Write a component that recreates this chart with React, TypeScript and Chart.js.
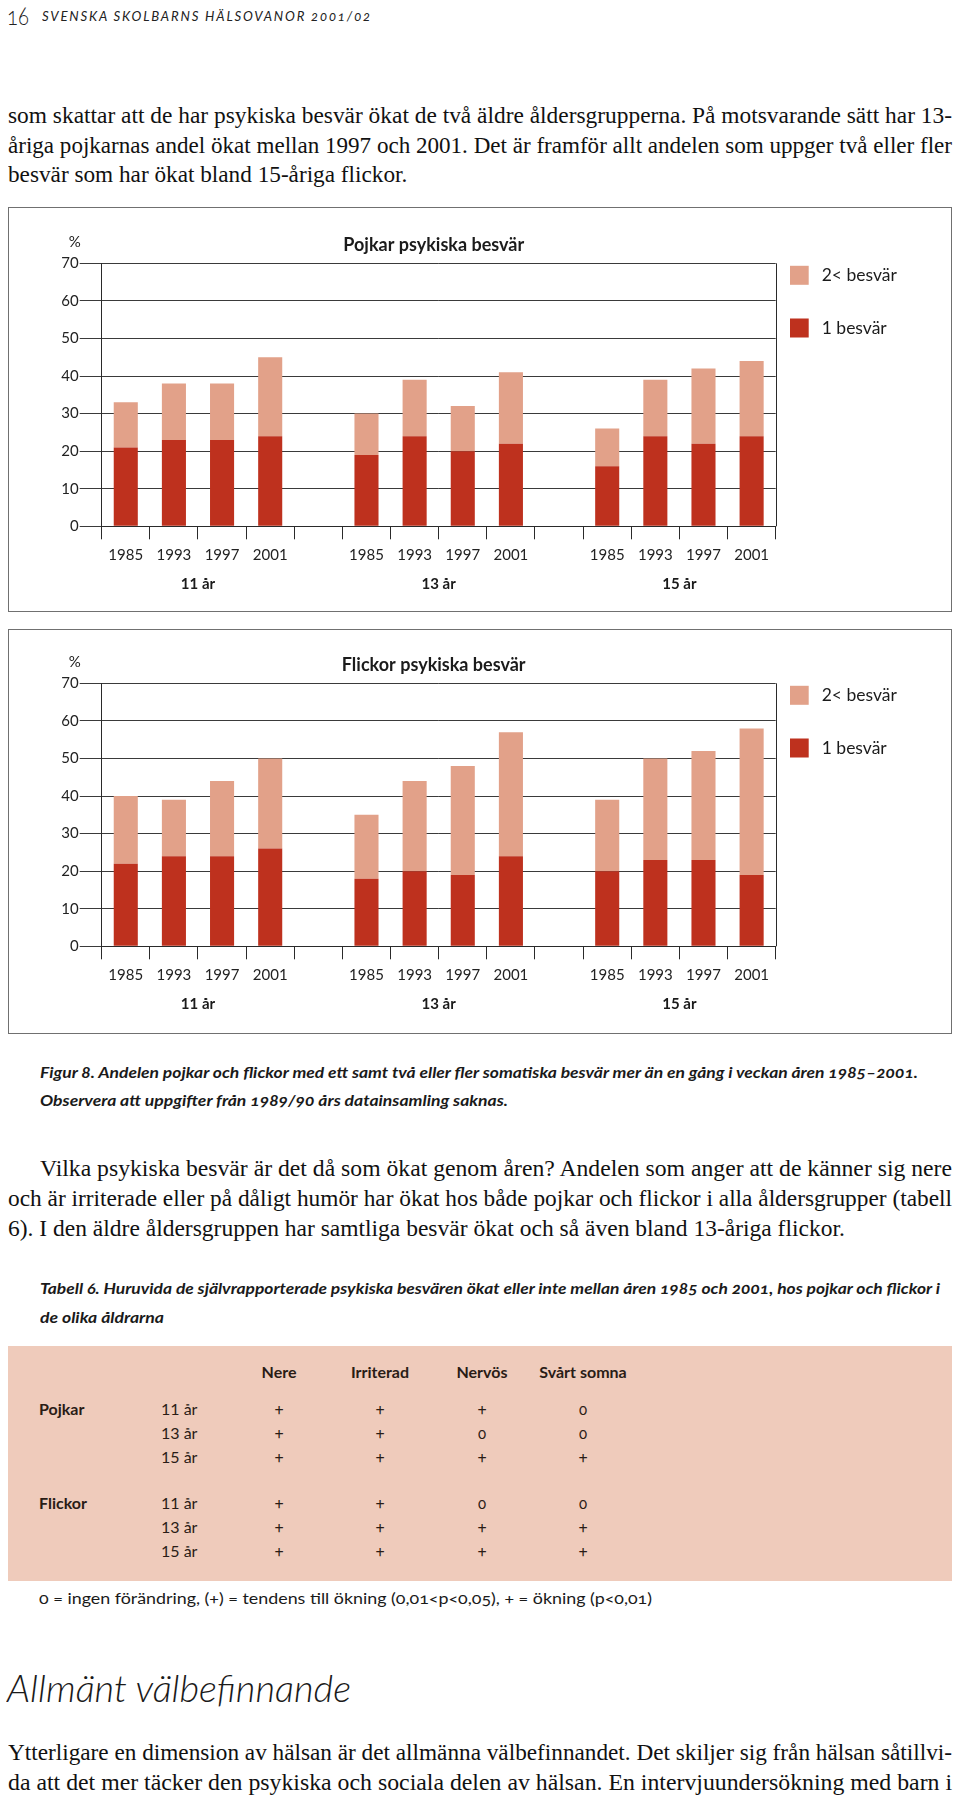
import React, { useEffect, useLayoutEffect, useRef } from "react";
import { Chart, registerables } from "chart.js";
Chart.register(...registerables);

// ---------- data ----------
const yearLabels = ["1985", "1993", "1997", "2001", "", "1985", "1993", "1997", "2001", "", "1985", "1993", "1997", "2001"];
const ageGroups = ["11 år", "13 år", "15 år"];
const groupSlots = [[0, 3], [5, 8], [10, 13]];
const yTicks = [0, 10, 20, 30, 40, 50, 60, 70];
const seriesOneName = "1 besvär";
const seriesTwoName = "2< besvär";
const boysOne = [21, 23, 23, 24, null, 19, 24, 20, 22, null, 16, 24, 22, 24];
const boysTwoPlus = [12, 15, 15, 21, null, 11, 15, 12, 19, null, 10, 15, 20, 20];
const girlsOne = [22, 24, 24, 26, null, 18, 20, 19, 24, null, 20, 23, 23, 19];
const girlsTwoPlus = [18, 15, 20, 24, null, 17, 24, 29, 33, null, 19, 27, 29, 39];

const tableCols = ["Nere", "Irriterad", "Nervös", "Svårt somna"];
const tableGroups = ["Pojkar", "Flickor"];
const tableAges = ["11 år", "13 år", "15 år"];
const tableValues = [
  [["+", "+", "+", "0"], ["+", "+", "0", "0"], ["+", "+", "+", "+"]],
  [["+", "+", "0", "0"], ["+", "+", "+", "+"], ["+", "+", "+", "+"]],
];

const DARK = "#BE311E";
const LIGHT = "#E2A189";
const TABLE_BG = "#EFCBBB";
const SANS = "Lato, 'Open Sans', sans-serif";
const SERIF = "'Liberation Serif', 'Times New Roman', serif";

// ---------- text lines fitted to widths ----------
type LineSpec = { text: string; x0: number; x1?: number; y: number };

function Para({ lines, font, size, weight = 400, italic = false, color = "#111", lh = 30, spacing = 0, extra = {} }: any) {
  const refs = useRef<(HTMLSpanElement | null)[]>([]);
  useLayoutEffect(() => {
    const fit = () => {
      const ks: number[] = [];
      (lines as LineSpec[]).forEach((l, i) => {
        const el = refs.current[i];
        if (!el) return;
        el.style.transform = "none";
        if (l.x1 !== undefined) {
          const w = el.getBoundingClientRect().width;
          const k = (l.x1 - l.x0) / w;
          ks.push(k);
          el.style.transform = `scaleX(${k})`;
        }
      });
      const avg = ks.length ? ks.reduce((a, b) => a + b, 0) / ks.length : 1;
      (lines as LineSpec[]).forEach((l, i) => {
        const el = refs.current[i];
        if (el && l.x1 === undefined) el.style.transform = `scaleX(${avg})`;
      });
    };
    fit();
    if ((document as any).fonts && (document as any).fonts.ready) (document as any).fonts.ready.then(fit);
  });
  return (
    <>
      {(lines as LineSpec[]).map((l, i) => (
        <span
          key={i}
          ref={(el) => { refs.current[i] = el; }}
          style={{
            position: "absolute",
            left: l.x0,
            top: l.y - lh / 2,
            height: lh,
            lineHeight: lh + "px",
            whiteSpace: "nowrap",
            display: "inline-block",
            fontFamily: font,
            fontSize: size,
            fontWeight: weight,
            fontStyle: italic ? "italic" : "normal",
            color,
            letterSpacing: spacing,
            transformOrigin: "0 50%",
            fontVariantNumeric: "oldstyle-nums",
            ...extra,
          }}
        >
          {l.text}
        </span>
      ))}
    </>
  );
}

// ---------- chart ----------
function StackedChart({ boxTop, boxBottom, plotTop, plotBottom, title, one, two }: any) {
  const ref = useRef<HTMLCanvasElement>(null);
  const boxH = boxBottom - boxTop;
  const canvasW = 942;
  const canvasH = boxH - 2;
  const originY = boxTop + 1;
  const originX = 9;
  const plotLeft = 101.7 - originX;
  const plotRight = 775.7 - originX;
  const padTop = plotTop - originY;
  const xAxisH = originY + canvasH - plotBottom;

  useEffect(() => {
    const decor = {
      id: "decor",
      afterDraw(chart: any) {
        const { ctx, chartArea, scales } = chart;
        const { left, right, top, bottom } = chartArea;
        const x = scales.x;
        ctx.save();
        // right frame line
        ctx.strokeStyle = "#2a2a2a";
        ctx.lineWidth = 1;
        ctx.beginPath();
        const rx = Math.round(right) + 0.5;
        ctx.moveTo(rx, top);
        ctx.lineTo(rx, bottom);
        ctx.stroke();
        ctx.fillStyle = "#1b1b1b";
        // title
        ctx.font = `700 18px ${SANS}`;
        ctx.textAlign = "center";
        ctx.textBaseline = "middle";
        ctx.fillText(title, (left + right) / 2 - 5, top - 18);
        // percent sign
        ctx.font = `400 15px ${SANS}`;
        ctx.textAlign = "right";
        ctx.fillText("%", left - 21, top - 21);
        // group labels
        ctx.font = `700 15px ${SANS}`;
        ctx.textAlign = "center";
        groupSlots.forEach(([a, b], i) => {
          const cx = (x.getPixelForValue(a) + x.getPixelForValue(b)) / 2;
          ctx.fillText(ageGroups[i], cx, bottom + 58);
        });
        // legend (top series first)
        const ds = chart.data.datasets.slice().reverse();
        ctx.font = `400 17.5px ${SANS}`;
        ctx.textAlign = "left";
        ds.forEach((d: any, i: number) => {
          const y0 = top + 2.5 + i * 52.7;
          ctx.fillStyle = d.backgroundColor;
          ctx.fillRect(right + 14.3, y0, 18.7, 19);
          ctx.fillStyle = "#1b1b1b";
          ctx.fillText(d.label, right + 46, y0 + 9.5);
        });
        ctx.restore();
      },
    };

    const chart = new Chart(ref.current as HTMLCanvasElement, {
      type: "bar",
      data: {
        labels: yearLabels,
        datasets: [
          { label: seriesOneName, data: one, backgroundColor: DARK, borderWidth: 0, categoryPercentage: 1, barPercentage: 0.5 },
          { label: seriesTwoName, data: two, backgroundColor: LIGHT, borderWidth: 0, categoryPercentage: 1, barPercentage: 0.5 },
        ],
      },
      options: {
        animation: false,
        responsive: false,
        maintainAspectRatio: false,
        layout: { padding: { top: padTop, right: canvasW - plotRight, left: 0, bottom: 0 } },
        plugins: { legend: { display: false }, title: { display: false }, tooltip: { enabled: false } },
        scales: {
          x: {
            stacked: true,
            offset: true,
            grid: { offset: true, drawOnChartArea: false, drawTicks: true, tickLength: 13, color: "#2a2a2a", lineWidth: 1 },
            border: { display: true, color: "#2a2a2a" },
            ticks: { font: { family: SANS, size: 15 }, color: "#222", padding: 7, maxRotation: 0, autoSkip: false },
            afterFit: (s: any) => { s.height = xAxisH; },
          },
          y: {
            stacked: true,
            min: 0,
            max: 70,
            afterBuildTicks: (s: any) => { s.ticks = yTicks.map((v) => ({ value: v })); },
            ticks: { font: { family: SANS, size: 15 }, color: "#222", padding: 1 },
            grid: { color: "#3a3a3a", tickLength: 22, drawTicks: true, lineWidth: 1 },
            border: { display: true, color: "#2a2a2a" },
            afterFit: (s: any) => { s.width = plotLeft; },
          },
        },
      } as any,
      plugins: [decor],
    });
    return () => chart.destroy();
  }, []);

  return (
    <div style={{ position: "absolute", left: 8, top: boxTop, width: 944, height: boxH, border: "1px solid #707070", boxSizing: "border-box", background: "#fff" }}>
      <canvas ref={ref} width={canvasW} height={canvasH} style={{ position: "absolute", left: 0, top: 0, width: canvasW, height: canvasH }} />
    </div>
  );
}

// ---------- page ----------
export default function App() {
  useLayoutEffect(() => {
    document.body.style.margin = "0";
    document.body.style.background = "#fff";
  }, []);

  const colX = [279, 380, 482, 583];
  const groupY = [1409, 1503];
  const rowStep = 24;
  const tableText = "#2a1c16";

  return (
    <div style={{ position: "relative", width: 960, height: 1799, overflow: "hidden", background: "#fff" }}>
      {/* running header */}
      <Para font={SANS} size={26} weight={300} color="#222" lh={34} lines={[{ text: "16", x0: 7, x1: 29, y: 15 }]} />
      <Para font={SANS} size={13} italic spacing={1.8} color="#222" lines={[{ text: "SVENSKA SKOLBARNS HÄLSOVANOR 2001/02", x0: 42, x1: 372, y: 16 }]} />

      {/* paragraph 1 */}
      <Para
        font={SERIF}
        size={24}
        lines={[
          { text: "som skattar att de har psykiska besvär ökat de två äldre åldersgrupperna. På motsvarande sätt har 13-", x0: 8, x1: 952, y: 115 },
          { text: "åriga pojkarnas andel ökat mellan 1997 och 2001. Det är framför allt andelen som uppger två eller fler", x0: 8, x1: 952, y: 144.5 },
          { text: "besvär som har ökat bland 15-åriga flickor.", x0: 8, y: 174 },
        ]}
        extra={{ fontVariantNumeric: "normal" }}
      />

      <StackedChart boxTop={207} boxBottom={612} plotTop={263.3} plotBottom={526.3} title="Pojkar psykiska besvär" one={boysOne} two={boysTwoPlus} />
      <StackedChart boxTop={629} boxBottom={1034} plotTop={683.3} plotBottom={946.3} title="Flickor psykiska besvär" one={girlsOne} two={girlsTwoPlus} />

      {/* figure caption */}
      <Para
        font={SANS}
        size={15}
        weight={700}
        italic
        color="#1a1a1a"
        lines={[
          { text: "Figur 8. Andelen pojkar och flickor med ett samt två eller fler somatiska besvär mer än en gång i veckan åren 1985–2001.", x0: 40, x1: 918, y: 1072 },
          { text: "Observera att uppgifter från 1989/90 års datainsamling saknas.", x0: 40, x1: 508, y: 1100 },
        ]}
      />

      {/* paragraph 2 */}
      <Para
        font={SERIF}
        size={24}
        lines={[
          { text: "Vilka psykiska besvär är det då som ökat genom åren? Andelen som anger att de känner sig nere", x0: 40, x1: 952, y: 1168 },
          { text: "och är irriterade eller på dåligt humör har ökat hos både pojkar och flickor i alla åldersgrupper (tabell", x0: 8, x1: 952, y: 1198 },
          { text: "6). I den äldre åldersgruppen har samtliga besvär ökat och så även bland 13-åriga flickor.", x0: 8, y: 1228 },
        ]}
        extra={{ fontVariantNumeric: "normal" }}
      />

      {/* table caption */}
      <Para
        font={SANS}
        size={15}
        weight={700}
        italic
        color="#1a1a1a"
        lines={[
          { text: "Tabell 6. Huruvida de självrapporterade psykiska besvären ökat eller inte mellan åren 1985 och 2001, hos pojkar och flickor i", x0: 40, x1: 940, y: 1288 },
          { text: "de olika åldrarna", x0: 40, x1: 164, y: 1317 },
        ]}
      />

      {/* table */}
      <div style={{ position: "absolute", left: 8, top: 1346, width: 944, height: 235, background: TABLE_BG }} />
      {tableCols.map((c, i) => (
        <div key={c} style={{ position: "absolute", left: colX[i] - 60, width: 120, top: 1372 - 12, height: 24, lineHeight: "24px", textAlign: "center", fontFamily: SANS, fontSize: 16, fontWeight: 700, color: tableText }}>
          {c}
        </div>
      ))}
      {tableGroups.map((g, gi) => (
        <React.Fragment key={g}>
          <div style={{ position: "absolute", left: 39, top: groupY[gi] - 12, height: 24, lineHeight: "24px", fontFamily: SANS, fontSize: 16, fontWeight: 700, color: tableText }}>{g}</div>
          {tableAges.map((a, ri) => (
            <React.Fragment key={a}>
              <div style={{ position: "absolute", left: 161, top: groupY[gi] + ri * rowStep - 12, height: 24, lineHeight: "24px", fontFamily: SANS, fontSize: 16, color: tableText }}>{a}</div>
              {tableValues[gi][ri].map((v, ci) => (
                <div key={ci} style={{ position: "absolute", left: colX[ci] - 20, width: 40, top: groupY[gi] + ri * rowStep - 12, height: 24, lineHeight: "24px", textAlign: "center", fontFamily: SANS, fontSize: v === "0" ? 15 : 17, color: tableText, fontVariantNumeric: "oldstyle-nums" }}>{v}</div>
              ))}
            </React.Fragment>
          ))}
        </React.Fragment>
      ))}
      <Para font={SANS} size={16} color="#1a1a1a" lines={[{ text: "0 = ingen förändring, (+) = tendens till ökning (0,01<p<0,05),  + = ökning (p<0,01)", x0: 39, x1: 652, y: 1598 }]} />

      {/* heading */}
      <Para font={SANS} size={38} weight={300} italic color="#1a1a1a" lh={46} lines={[{ text: "Allmänt välbefinnande", x0: 7, x1: 351, y: 1687 }]} />

      {/* paragraph 3 */}
      <Para
        font={SERIF}
        size={24}
        lines={[
          { text: "Ytterligare en dimension av hälsan är det allmänna välbefinnandet. Det skiljer sig från hälsan såtillvi-", x0: 8, x1: 952, y: 1752 },
          { text: "da att det mer täcker den psykiska och sociala delen av hälsan. En intervjuundersökning med barn i", x0: 8, x1: 952, y: 1782 },
        ]}
        extra={{ fontVariantNumeric: "normal" }}
      />
    </div>
  );
}
